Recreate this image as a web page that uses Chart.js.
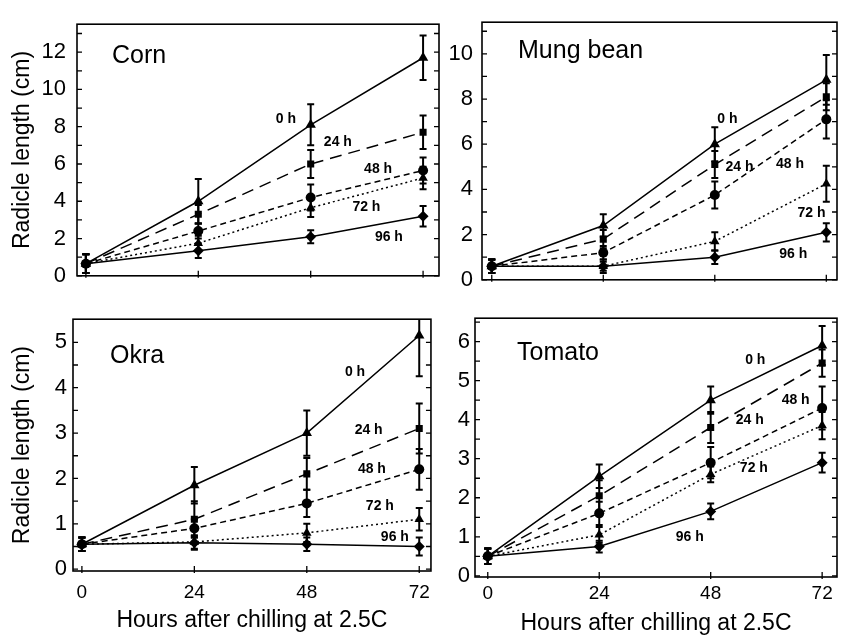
<!DOCTYPE html>
<html>
<head>
<meta charset="utf-8">
<script src="https://cdn.jsdelivr.net/npm/chart.js@4.4.0/dist/chart.umd.min.js"></script>
<style>
  html, body { margin: 0; padding: 0; background: #fff; }
  body { width: 843px; height: 637px; position: relative; overflow: hidden; }
  .panel { position: absolute; }
</style>
</head>
<body>
<div class="panel" style="left:0;top:0;width:445px;height:300px"><canvas id="corn"></canvas></div>
<div class="panel" style="left:445px;top:0;width:398px;height:302px"><canvas id="mung"></canvas></div>
<div class="panel" style="left:0;top:300px;width:440px;height:337px"><canvas id="okra"></canvas></div>
<div class="panel" style="left:440px;top:300px;width:403px;height:337px"><canvas id="tomato"></canvas></div>
<script>
// --- data ---
const hours = [0, 24, 48, 72];
const treatments = ["0 h", "24 h", "48 h", "72 h", "96 h"];

const cornMean = [
  [0.65, 4.0, 8.1, 11.7],
  [0.65, 3.3, 6.0, 7.7],
  [0.65, 2.4, 4.2, 5.65],
  [0.65, 1.75, 3.65, 5.25],
  [0.65, 1.35, 2.1, 3.2]
];
const cornErr = [
  [0.5, 1.2, 1.1, 1.2],
  [0.5, 0.5, 0.75, 0.9],
  [0.5, 0.4, 0.7, 0.7],
  [0.5, 0.4, 0.5, 0.6],
  [0.5, 0.4, 0.35, 0.55]
];

const mungMean = [
  [0.6, 2.4, 6.0, 8.85],
  [0.6, 1.8, 5.1, 8.1],
  [0.6, 1.2, 3.75, 7.1],
  [0.6, 0.6, 1.7, 4.25],
  [0.6, 0.6, 1.0, 2.1]
];
const mungErr = [
  [0.3, 0.5, 0.75, 1.1],
  [0.3, 0.4, 0.6, 0.6],
  [0.3, 0.3, 0.6, 0.85],
  [0.3, 0.2, 0.4, 0.8],
  [0.3, 0.3, 0.3, 0.4]
];

const okraMean = [
  [0.55, 1.85, 3.0, 5.15],
  [0.55, 1.1, 2.1, 3.1],
  [0.55, 0.9, 1.45, 2.2],
  [0.55, 0.6, 0.8, 1.1],
  [0.55, 0.58, 0.55, 0.5]
];
const okraErr = [
  [0.15, 0.4, 0.5, 0.9],
  [0.15, 0.4, 0.35, 0.55],
  [0.15, 0.2, 0.3, 0.45],
  [0.15, 0.15, 0.2, 0.25],
  [0.15, 0.15, 0.15, 0.2]
];

const tomatoMean = [
  [0.5, 2.55, 4.5, 5.9],
  [0.5, 2.05, 3.8, 5.45],
  [0.5, 1.6, 2.9, 4.3],
  [0.5, 1.05, 2.6, 3.85],
  [0.5, 0.75, 1.65, 2.9]
];
const tomatoErr = [
  [0.2, 0.3, 0.35, 0.5],
  [0.2, 0.4, 0.4, 0.35],
  [0.2, 0.3, 0.4, 0.55],
  [0.2, 0.2, 0.2, 0.35],
  [0.2, 0.15, 0.2, 0.25]
];

const xTickValues = [0, 24, 48, 72];
const cornYTicks = [0, 2, 4, 6, 8, 10, 12];
const mungYTicks = [0, 2, 4, 6, 8, 10];
const okraYTicks = [0, 1, 2, 3, 4, 5];
const tomatoYTicks = [0, 1, 2, 3, 4, 5, 6];

// --- styles ---
const FONT = "'Liberation Sans', Arial, Helvetica, sans-serif";
const markers = ["triangle", "rect", "circle", "triangle", "rectRot"];
const markerSize = [6, 5, 5, 5.5, 5.5];
const dashes = [[], [12, 7], [6, 4], [2, 3], []];

// frame with inward ticks
const framePlugin = {
  id: "frame",
  afterDraw(chart, args, opts) {
    const { ctx, chartArea: a, scales } = chart;
    const y = scales.y, x = scales.x;
    ctx.save();
    ctx.strokeStyle = "#000";
    ctx.lineWidth = 1.6;
    ctx.strokeRect(a.left, a.top, a.right - a.left, a.bottom - a.top);
    ctx.lineWidth = 1.3;
    const step = opts.minor;
    for (let v = 0; v <= y.max; v += step) {
      const py = y.getPixelForValue(v);
      if (py < a.top + 2) continue;
      ctx.beginPath();
      ctx.moveTo(a.left, py); ctx.lineTo(a.left + 5, py);
      ctx.moveTo(a.right, py); ctx.lineTo(a.right - 5, py);
      ctx.stroke();
    }
    xTickValues.forEach(v => {
      const px = x.getPixelForValue(v);
      ctx.beginPath();
      ctx.moveTo(px, a.bottom + 2); ctx.lineTo(px, a.bottom - 5);
      ctx.stroke();
    });
    ctx.restore();
  }
};

// error bars + series labels + panel name
const annotPlugin = {
  id: "annot",
  afterDatasetsDraw(chart, args, opts) {
    const { ctx, chartArea: a, scales } = chart;
    const y = scales.y, x = scales.x;
    ctx.save();
    ctx.beginPath();
    ctx.rect(a.left, a.top, a.right - a.left, a.bottom - a.top);
    ctx.clip();
    ctx.strokeStyle = "#000";
    ctx.lineWidth = 2;
    opts.err.forEach((errs, i) => {
      const mean = opts.mean[i];
      hours.forEach((h, j) => {
        const px = x.getPixelForValue(h);
        const y1 = y.getPixelForValue(mean[j] - errs[j]);
        const y2 = y.getPixelForValue(mean[j] + errs[j]);
        ctx.beginPath();
        ctx.moveTo(px, y1); ctx.lineTo(px, y2);
        ctx.moveTo(px - 3.5, y1); ctx.lineTo(px + 3.5, y1);
        ctx.moveTo(px - 3.5, y2); ctx.lineTo(px + 3.5, y2);
        ctx.stroke();
      });
    });
    ctx.restore();

    ctx.save();
    ctx.fillStyle = "#000";
    ctx.font = "bold 14px " + FONT;
    ctx.textAlign = "center";
    ctx.textBaseline = "middle";
    opts.labels.forEach((p, i) => {
      ctx.fillText(treatments[i], x.getPixelForValue(p[0]), y.getPixelForValue(p[1]));
    });
    ctx.font = "25px " + FONT;
    ctx.textAlign = "left";
    ctx.textBaseline = "alphabetic";
    ctx.fillText(opts.name, a.left + opts.nameAt[0], a.top + opts.nameAt[1]);
    ctx.restore();
  }
};

function makePanel(cfg) {
  const datasets = cfg.mean.map((vals, i) => ({
    label: treatments[i],
    data: hours.map((h, j) => ({ x: h, y: vals[j] })),
    borderColor: "#000",
    backgroundColor: "#000",
    borderWidth: 1.5,
    borderDash: dashes[i],
    pointStyle: markers[i],
    pointRadius: markerSize[i],
    pointBorderWidth: 0,
    tension: 0
  }));

  return new Chart(document.getElementById(cfg.id), {
    type: "line",
    data: { datasets },
    plugins: [framePlugin, annotPlugin],
    options: {
      responsive: true,
      maintainAspectRatio: false,
      animation: false,
      events: [],
      layout: { padding: cfg.padding },
      plugins: {
        legend: { display: false },
        tooltip: { enabled: false },
        frame: { minor: cfg.minor },
        annot: { mean: cfg.mean, err: cfg.err, labels: cfg.labels, name: cfg.name, nameAt: cfg.nameAt }
      },
      scales: {
        x: {
          type: "linear",
          min: cfg.xRange[0],
          max: cfg.xRange[1],
          afterBuildTicks: s => { s.ticks = xTickValues.map(v => ({ value: v })); },
          afterFit: s => { s.height = cfg.xHeight; },
          grid: { display: false, drawTicks: false },
          border: { display: false },
          ticks: {
            display: cfg.xLabels,
            color: "#000",
            padding: cfg.xTickPad,
            maxRotation: 0,
            font: { family: FONT, size: 19 }
          },
          title: {
            display: cfg.xLabels,
            text: "Hours after chilling at 2.5C",
            color: "#000",
            font: { family: FONT, size: 23 },
            padding: { top: 0, bottom: cfg.xTitlePad }
          }
        },
        y: {
          min: cfg.yRange[0],
          max: cfg.yRange[1],
          afterBuildTicks: s => { s.ticks = cfg.yTicks.map(v => ({ value: v })); },
          afterFit: s => { s.width = cfg.yWidth; },
          grid: { display: false, drawTicks: false },
          border: { display: false },
          ticks: {
            color: "#000",
            padding: cfg.yTickPad,
            font: { family: FONT, size: 22 }
          },
          title: {
            display: cfg.yTitle,
            text: "Radicle length (cm)",
            color: "#000",
            font: { family: FONT, size: 23 },
            padding: { top: 9, bottom: 0 }
          }
        }
      }
    }
  });
}

makePanel({
  id: "corn", name: "Corn", nameAt: [35, 39],
  mean: cornMean, err: cornErr, yTicks: cornYTicks, minor: 1,
  xRange: [-1.9, 75.4], yRange: [0, 13.5],
  padding: { top: 13, right: 4, left: 0, bottom: 0 },
  yWidth: 77, xHeight: 5, yTickPad: 11, xTickPad: 0, xTitlePad: 0,
  xLabels: false, yTitle: true,
  labels: [[42.7, 8.4], [53.8, 7.15], [62.4, 5.7], [59.9, 3.7], [64.7, 2.1]]
});

makePanel({
  id: "mung", name: "Mung bean", nameAt: [36, 36],
  mean: mungMean, err: mungErr, yTicks: mungYTicks, minor: 1,
  xRange: [-2.1, 74.3], yRange: [0, 11.4],
  padding: { top: 18, right: 1, left: 0, bottom: 0 },
  yWidth: 37, xHeight: 2, yTickPad: 9, xTickPad: 0, xTitlePad: 0,
  xLabels: false, yTitle: false,
  labels: [[50.7, 7.1], [53.3, 5.0], [64.2, 5.1], [68.8, 2.95], [64.9, 1.15]]
});

makePanel({
  id: "okra", name: "Okra", nameAt: [37, 44],
  mean: okraMean, err: okraErr, yTicks: okraYTicks, minor: 0.5,
  xRange: [-1.9, 74.5], yRange: [-0.04, 5.51],
  padding: { top: 9, right: 5, left: 0, bottom: 0 },
  yWidth: 73, xHeight: 66, yTickPad: 6, xTickPad: 10, xTitlePad: 3,
  xLabels: true, yTitle: true,
  labels: [[58.3, 4.34], [61.2, 3.07], [61.9, 2.2], [63.6, 1.38], [66.8, 0.7]]
});

makePanel({
  id: "tomato", name: "Tomato", nameAt: [42, 42],
  mean: tomatoMean, err: tomatoErr, yTicks: tomatoYTicks, minor: 0.5,
  xRange: [-2.75, 75.2], yRange: [-0.03, 6.6],
  padding: { top: 15, right: 1, left: 0, bottom: 0 },
  yWidth: 35, xHeight: 60, yTickPad: 5, xTickPad: 5, xTitlePad: 0,
  xLabels: true, yTitle: false,
  labels: [[57.6, 5.52], [56.4, 3.98], [66.3, 4.49], [57.3, 2.75], [43.5, 1.0]]
});
</script>
</body>
</html>
